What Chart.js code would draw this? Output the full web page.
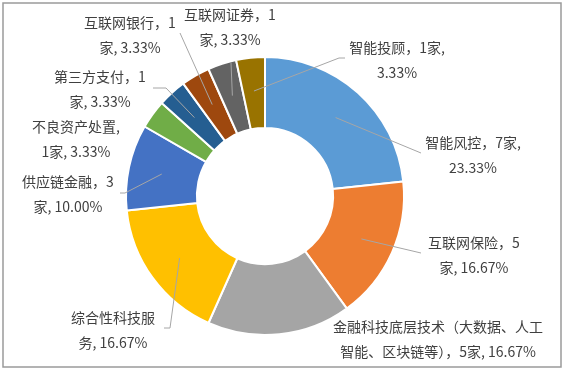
<!DOCTYPE html>
<html>
<head>
<meta charset="utf-8">
<script src="https://cdn.jsdelivr.net/npm/chart.js@4/dist/chart.umd.min.js"></script>
<style>
  html, body { margin: 0; padding: 0; background: #fff; }
  #wrap { width: 565px; height: 371px; }
</style>
</head>
<body>
<div id="wrap"><canvas id="donut" width="565" height="371"></canvas></div>
<script>
// data (companies per segment, clockwise from 12 o'clock)
const categories = ['智能风控', '互联网保险', '金融科技底层技术', '综合性科技服务', '供应链金融',
                    '不良资产处置', '第三方支付', '互联网银行', '互联网证券', '智能投顾'];
const counts = [7, 5, 5, 5, 3, 1, 1, 1, 1, 1];
const labelLines = [
    ['智能风控，7家,', '23.33%'],
    ['互联网保险，5', '家, 16.67%'],
    ['金融科技底层技术（大数据、人工', '智能、区块链等），5家, 16.67%'],
    ['综合性科技服', '务, 16.67%'],
    ['供应链金融，3', '家, 10.00%'],
    ['不良资产处置,', '1家, 3.33%'],
    ['第三方支付，1', '家, 3.33%'],
    ['互联网银行，1', '家, 3.33%'],
    ['互联网证券，1', '家, 3.33%'],
    ['智能投顾，1家,', '3.33%']
];
const colors = ['#5B9BD5', '#ED7D31', '#A5A5A5', '#FFC000', '#4472C4',
                '#70AD47', '#255E91', '#9E480E', '#636363', '#997300'];

// label placement relative to the doughnut centre: text block centre x, first line y
const labelPos = [[208, -53], [209, 47], [173, 131], [-152, 122], [-197, -14],
                  [-189, -69], [-165, -119], [-135, -173], [-35, -181], [132, -148]];
// leader lines: list of points after the slice anchor (null = no line)
const leaders = [
    [[156, -43]],
    [[156, 57]],
    null,
    [[-95, 132], [-101, 132]],
    [[-140, -3], [-145, -3]],
    null,
    [[-99, -108], [-112, -108]],
    [[-85, -163]],
    [[-34, -133]],
    [[74, -138], [80, -138]]
];

const labelPlugin = {
    id: 'outsideLabels',
    afterDraw(chart) {
        const ctx = chart.ctx;
        const arcs = chart.getDatasetMeta(0).data;
        ctx.save();
        // frame
        ctx.strokeStyle = '#9a9a9a';
        ctx.lineWidth = 1.5;
        ctx.strokeRect(3, 3, 558, 364);

        arcs.forEach((arc, i) => {
            const p = arc.getProps(['x', 'y', 'startAngle', 'endAngle', 'innerRadius', 'outerRadius'], true);
            const mid = (p.startAngle + p.endAngle) / 2;
            const r = (p.innerRadius + p.outerRadius) / 2 + 2;
            if (leaders[i]) {
                ctx.strokeStyle = '#a6a6a6';
                ctx.lineWidth = 1;
                ctx.beginPath();
                ctx.moveTo(p.x + Math.cos(mid) * r, p.y + Math.sin(mid) * r);
                leaders[i].forEach(pt => ctx.lineTo(p.x + pt[0], p.y + pt[1]));
                ctx.stroke();
            }
            ctx.fillStyle = '#404040';
            ctx.font = '14px "Noto Sans CJK SC", "Microsoft YaHei", sans-serif';
            ctx.textAlign = 'center';
            ctx.textBaseline = 'middle';
            labelLines[i].forEach((line, k) => {
                ctx.fillText(line, p.x + labelPos[i][0], p.y + labelPos[i][1] + k * 24.5);
            });
        });
        ctx.restore();
    }
};

new Chart(document.getElementById('donut').getContext('2d'), {
    type: 'doughnut',
    data: {
        labels: categories,
        datasets: [{
            data: counts,
            backgroundColor: colors,
            borderColor: '#ffffff',
            borderWidth: 2
        }]
    },
    options: {
        responsive: false,
        animation: false,
        cutout: '49%',
        layout: { padding: { left: 125, right: 160, top: 56, bottom: 35 } },
        plugins: {
            legend: { display: false },
            tooltip: { enabled: false }
        }
    },
    plugins: [labelPlugin]
});
</script>
</body>
</html>
